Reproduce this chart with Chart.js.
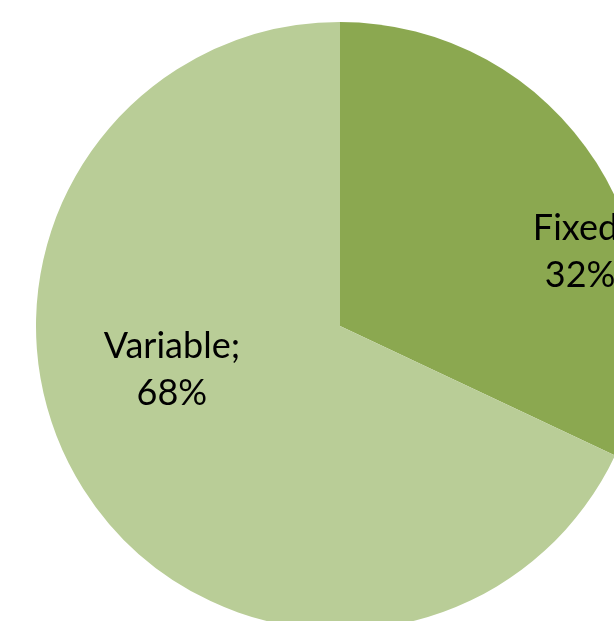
<!DOCTYPE html>
<html>
<head>
<meta charset="utf-8">
<script src="https://cdn.jsdelivr.net/npm/chart.js@4"></script>
<style>
    html, body { margin: 0; padding: 0; overflow: hidden; background: #fff; width: 614px; height: 621px; }
    #costCanvas { position: absolute; left: 36px; top: 22px; }
</style>
</head>
<body>
<canvas id="costCanvas" width="608" height="608"></canvas>
<script>
let categories = ["Fixed", "Variable"];
let shares = [32, 68];
let sliceColors = ["#8ba850", "#b9cd97"];

// Excel style "Name; NN%" labels, placed relative to the slice centre / radius
let pieLabelPlugin = {
    id: 'pieLabels',
    afterDatasetsDraw: function(chart) {
        let ctx = chart.ctx;
        let opts = chart.options.plugins.pieLabels;
        let meta = chart.getDatasetMeta(0);
        ctx.save();
        ctx.font = opts.fontSize + "px " + opts.fontFamily;
        ctx.fillStyle = "#000";
        ctx.textAlign = "center";
        ctx.textBaseline = "middle";
        meta.data.forEach(function(arc, i) {
            let anchor = opts.anchors[i];
            let x = arc.x + anchor[0] * arc.outerRadius;
            let y = arc.y + anchor[1] * arc.outerRadius;
            let value = chart.data.datasets[0].data[i];
            ctx.fillText(chart.data.labels[i] + ";", x, y - opts.lineGap / 2);
            ctx.fillText(value + "%", x, y + opts.lineGap / 2);
        });
        ctx.restore();
    }
};

let main = function() {
    const ctx = document.getElementById('costCanvas');
    new Chart(ctx, {
        type: 'pie',
        data: {
            labels: categories,
            datasets: [{
                data: shares,
                backgroundColor: sliceColors,
                borderWidth: 0
            }]
        },
        options: {
            responsive: false,
            devicePixelRatio: 1,
            animation: false,
            layout: { padding: 0 },
            plugins: {
                legend: { display: false },
                tooltip: { enabled: false },
                pieLabels: {
                    fontSize: 36,
                    fontFamily: "Lato, 'Open Sans', sans-serif",
                    lineGap: 47,
                    anchors: [[0.79, -0.243], [-0.553, 0.145]]
                }
            }
        },
        plugins: [pieLabelPlugin]
    });
};

window.onload = main;
</script>
</body>
</html>
